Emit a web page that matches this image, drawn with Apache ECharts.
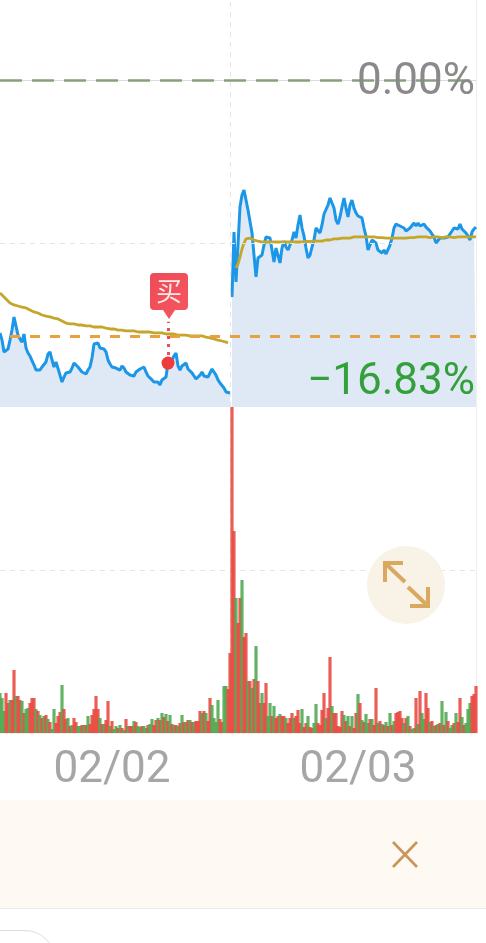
<!DOCTYPE html>
<html>
<head>
<meta charset="utf-8">
<style>html,body{margin:0;padding:0;background:#fff}#c{width:486px;height:943px}</style>
<script src="https://cdn.jsdelivr.net/npm/echarts@6/dist/echarts.min.js"></script>
</head>
<body>
<div id="c"></div>
<script>
// Change (%) per sample, session 02/02 (partial) and 02/03
const pricePrev = [-16.63,-17.10,-17.88,-17.75,-17.69,-17.10,-16.44,-15.58,-15.71,-16.77,-17.03,-17.23,-16.70,-17.62,-17.95,-18.15,-18.28,-18.74,-19.07,-19.00,-19.07,-18.87,-19.00,-18.54,-18.02,-17.88,-18.41,-18.87,-18.54,-18.67,-19.40,-19.86,-19.53,-19.26,-19.13,-19.20,-18.94,-18.61,-18.74,-18.87,-18.87,-19.20,-19.20,-19.33,-19.07,-18.87,-18.28,-17.36,-17.23,-17.29,-17.62,-17.75,-17.69,-17.88,-18.41,-18.67,-18.87,-18.80,-18.94,-18.87,-19.07,-18.80,-18.94,-19.20,-19.33,-19.40,-19.46,-19.46,-19.20,-19.13,-19.00,-19.13,-18.87,-19.20,-19.46,-19.53,-19.72,-19.86,-19.92,-19.86,-20.05,-19.72,-19.79,-19.53,-18.61,-18.80,-18.41,-18.15,-17.95,-18.80,-19.07,-18.80,-18.74,-18.61,-19.00,-19.13,-19.26,-19.46,-19.66,-19.72,-19.40,-19.20,-19.46,-19.40,-19.53,-19.40,-19.00,-18.94,-19.40,-19.72,-19.92,-19.79,-20.25,-20.51,-20.58,-20.58];
const priceNext = [-14.27,-9.99,-13.28,-10.85,-8.35,-7.56,-7.23,-7.89,-8.55,-8.68,-10.06,-11.51,-12.95,-11.70,-11.64,-11.51,-10.85,-10.32,-10.32,-10.39,-11.18,-11.97,-11.05,-11.05,-12.03,-11.05,-10.59,-10.98,-11.18,-11.24,-10.52,-9.99,-10.39,-9.53,-8.88,-9.73,-10.26,-11.05,-11.70,-11.51,-10.98,-10.52,-9.73,-9.86,-10.06,-9.53,-8.81,-8.68,-8.22,-7.76,-7.69,-8.42,-9.21,-9.47,-9.01,-8.35,-7.76,-8.42,-9.01,-8.22,-7.89,-8.42,-8.74,-8.94,-8.81,-9.07,-9.73,-10.26,-11.18,-11.31,-10.52,-10.39,-10.72,-11.18,-11.31,-11.37,-11.18,-11.44,-11.31,-10.85,-10.39,-9.73,-9.47,-9.34,-9.60,-9.53,-9.73,-9.93,-9.99,-9.73,-9.60,-9.40,-9.60,-9.40,-9.60,-9.53,-9.47,-9.67,-9.80,-9.93,-10.13,-10.32,-10.72,-10.85,-10.39,-10.45,-10.39,-10.52,-10.32,-10.26,-9.93,-9.73,-9.60,-9.80,-9.47,-9.80,-9.80,-10.06,-10.26,-10.52,-9.99,-9.80,-9.67];
const avgPrev = [-14.00,-14.14,-14.27,-14.40,-14.53,-14.66,-14.73,-14.79,-14.82,-14.86,-14.93,-14.93,-14.99,-14.99,-15.06,-15.12,-15.19,-15.25,-15.32,-15.32,-15.39,-15.45,-15.45,-15.52,-15.52,-15.58,-15.58,-15.65,-15.65,-15.71,-15.78,-15.85,-15.91,-15.98,-15.98,-16.04,-16.04,-16.04,-16.11,-16.11,-16.11,-16.11,-16.17,-16.17,-16.17,-16.17,-16.17,-16.24,-16.24,-16.24,-16.24,-16.24,-16.31,-16.31,-16.31,-16.37,-16.37,-16.37,-16.37,-16.44,-16.44,-16.44,-16.44,-16.50,-16.50,-16.50,-16.50,-16.50,-16.57,-16.57,-16.57,-16.57,-16.57,-16.57,-16.57,-16.57,-16.63,-16.63,-16.63,-16.63,-16.63,-16.63,-16.63,-16.70,-16.70,-16.70,-16.70,-16.70,-16.77,-16.77,-16.77,-16.77,-16.77,-16.77,-16.77,-16.83,-16.83,-16.83,-16.83,-16.83,-16.83,-16.83,-16.90,-16.90,-16.96,-16.96,-17.03,-17.03,-17.10,-17.10,-17.16,-17.16,-17.23,-17.23,-17.29];
const avgNext = [null,null,-12.36,-12.10,-11.64,-11.11,-10.72,-10.45,-10.39,-10.39,-10.45,-10.52,-10.59,-10.59,-10.65,-10.65,-10.65,-10.65,-10.65,-10.65,-10.65,-10.65,-10.65,-10.65,-10.65,-10.65,-10.65,-10.65,-10.65,-10.65,-10.65,-10.65,-10.65,-10.65,-10.65,-10.65,-10.65,-10.62,-10.62,-10.62,-10.59,-10.59,-10.59,-10.59,-10.59,-10.59,-10.59,-10.52,-10.52,-10.52,-10.45,-10.45,-10.45,-10.45,-10.45,-10.39,-10.39,-10.39,-10.39,-10.39,-10.32,-10.32,-10.32,-10.32,-10.32,-10.32,-10.32,-10.32,-10.32,-10.32,-10.32,-10.32,-10.36,-10.36,-10.36,-10.36,-10.39,-10.39,-10.39,-10.39,-10.39,-10.39,-10.39,-10.39,-10.39,-10.39,-10.39,-10.39,-10.36,-10.36,-10.36,-10.36,-10.32,-10.32,-10.32,-10.32,-10.32,-10.32,-10.36,-10.36,-10.32,-10.32,-10.32,-10.32,-10.36,-10.36,-10.32,-10.32,-10.32,-10.32,-10.36,-10.36,-10.32,-10.32,-10.32,-10.32,-10.32,-10.32,-10.32,-10.32,-10.32,-10.32,-10.32];
const volumes = [
40,35,22,40,30,33,33,63,37,37, 33,32,20,24,25,30,35,35,24,22,
18,15,17,18,14,11,4,24,10,17, 21,48,24,14,15,7,8,15,11,7,
7,8,8,8,17,9,18,24,37,24, 15,9,9,13,32,7,12,4,7,5,
8,5,3,14,7,7,7,12,11,7, 6,7,7,5,8,9,14,8,13,15,
13,20,16,19,12,18,9,8,8,7, 10,18,11,11,13,13,11,11,12,12,
22,20,22,20,12,35,28,15,11,33, 14,11,47,47,44,
80,326,202,135,110,
135,153,96,100,52,52,45,54,87,52, 30,40,30,50,17,30,17,27,15,17,
19,17,17,15,10,15,20,15,17,23, 10,24,6,10,17,6,5,10,29,10,
8,23,40,15,25,76,27,20,20,7, 6,22,18,12,17,7,17,5,20,39,
30,13,11,19,10,14,14,8,45,10, 12,9,8,11,7,20,8,12,20,21,
22,15,10,15,17,7,4,5,35,9, 42,20,14,40,25,11,12,7,8,9,
10,32,8,21,12,5,8,10,20,11, 35,16,8,10,24,30,37,39,47];
const volumeUp = [
0,0,0,1,1,0,1,1,0,1, 1,0,1,0,0,1,1,1,0,1,
0,1,0,1,0,1,0,0,1,1, 1,0,1,1,0,1,0,1,1,0,
0,1,0,1,0,1,1,1,1,1, 0,1,0,1,1,0,1,0,0,1,
0,1,0,1,0,1,1,0,1,0, 0,1,0,0,1,0,0,1,1,0,
1,0,1,0,1,0,1,0,1,0, 1,0,1,0,1,0,1,0,1,1,
1,0,1,0,1,1,0,0,0,0, 1,1,0,0,1,
1,1,1,0,1,
1,0,1,1,0,1,0,1,0,1, 1,0,1,1,0,0,1,0,1,1,
0,1,1,0,1,1,1,0,1,1, 1,0,1,1,0,1,1,0,0,1,
1,1,1,0,1,1,0,1,1,1, 1,1,0,1,0,1,0,1,1,0,
1,0,1,0,0,1,0,1,1,0, 1,0,1,0,1,0,1,0,1,1,
1,1,0,1,0,1,0,0,1,0, 1,0,0,1,1,0,1,0,1,0,
1,0,1,0,1,0,0,1,0,1, 1,0,1,0,0,0,1,1,1];
const tickLabels = {56:'02/02', 179:'02/03'};
const buyIndex = 84;
const buyLabel = '买';
const zeroLabel = '0.00%';
const lastLabel = '\u221216.83%';
const costLevel = -16.83;

const prevPad = pricePrev.map(() => null);
const priceA = pricePrev;
const priceB = prevPad.concat(priceNext);
const avg = avgPrev.concat([null], avgNext);
const categories = priceB.map((_, i) => tickLabels[i] || String(i));
const sessionBreak = 115;
const RED = '#e6433a', GREEN = '#4aa64c';
const badge = 'path://M4 0H34a4 4 0 0 1 4 4V33a4 4 0 0 1-4 4H25L19 46L13 37H4a4 4 0 0 1-4-4V4a4 4 0 0 1 4-4Z';
const guide = {color:'#e4e4e4', type:[5,5], width:1};
const arrow = '#d9a95f';
const priceLine = {color:'#1c97e8', width:3};
const priceArea = {color:'#dfe8f5', opacity:1, origin:'start'};

const chart = echarts.init(document.getElementById('c'), null, {renderer:'canvas'});
chart.setOption({
  animation:false,
  backgroundColor:'#fff',
  grid:[
    {left:0, top:0, width:476, height:407},
    {left:0, top:407, width:476, height:326}
  ],
  xAxis:[
    {type:'category', gridIndex:0, data:categories, boundaryGap:false,
     axisLine:{lineStyle:{color:'#dcdcdc'}}, axisTick:{show:false}, axisLabel:{show:false}, splitLine:{show:false}},
    {type:'category', gridIndex:1, data:categories, boundaryGap:false,
     axisLine:{lineStyle:{color:'#efefef'}}, axisTick:{show:false}, splitLine:{show:false},
     axisLabel:{interval:(i)=>tickLabels[i]!==undefined, hideOverlap:false, margin:16,
       color:'#a6a6a6', fontSize:44, fontFamily:'Roboto'}}
  ],
  yAxis:[
    {type:'value', gridIndex:0, min:-21.5, max:5.26, position:'right', splitLine:{show:false},
     axisTick:{show:false}, axisLabel:{show:false}, axisLine:{show:true, lineStyle:{color:'#eeeeee'}}},
    {type:'value', gridIndex:1, min:0, max:326, position:'right', splitLine:{show:false},
     axisTick:{show:false}, axisLabel:{show:false}, axisLine:{show:true, lineStyle:{color:'#eeeeee'}}}
  ],
  series:[
    {type:'line', name:'price-next', xAxisIndex:0, yAxisIndex:0, data:priceB, showSymbol:false, z:3,
     lineStyle:priceLine, areaStyle:priceArea},
    {type:'line', name:'price-prev', xAxisIndex:0, yAxisIndex:0, data:priceA, showSymbol:false, z:3,
     lineStyle:priceLine, areaStyle:priceArea,
     markLine:{silent:true, symbol:'none', animation:false, label:{show:false},
       data:[
         {yAxis:-10.72, lineStyle:guide},
         {xAxis:sessionBreak, lineStyle:guide},
         {yAxis:0, lineStyle:{color:'#86a07e', type:[22,10], width:2.6}},
         [{coord:[5,costLevel], lineStyle:{color:'#eba03f', type:[10,10], width:3}},{coord:[238,costLevel]}],
         [{coord:[buyIndex,priceA[buyIndex]], lineStyle:{color:'#e8505a', type:[3,5], width:3}},{coord:[buyIndex,-15.9]}]
       ]},
     markPoint:{silent:true, animation:false, data:[
       {coord:[buyIndex,priceA[buyIndex]], symbol:'circle', symbolSize:13, itemStyle:{color:'#ee3b3b'}, label:{show:false}},
       {coord:[buyIndex,priceA[buyIndex]], symbol:badge, symbolSize:[38,46], symbolOffset:[1,-67],
        itemStyle:{color:new echarts.graphic.LinearGradient(0,0,1,1,[{offset:0,color:'#ee4a58'},{offset:1,color:'#f4585f'}])},
        label:{show:true, formatter:buyLabel, color:'#ffe9e6', fontSize:26, fontFamily:'Noto Sans CJK SC', position:'inside', offset:[0,-5]}}
     ]}},
    {type:'line', name:'avg', xAxisIndex:0, yAxisIndex:0, data:avg, showSymbol:false, z:4,
     lineStyle:{color:'#c4a72a', width:2.8}},
    {type:'bar', name:'volume', xAxisIndex:1, yAxisIndex:1, barWidth:3.2, z:3,
     data:volumes.map((v,i)=>({value:v, itemStyle:{color:volumeUp[i]?RED:GREEN, opacity:0.86}})),
     markLine:{silent:true, symbol:'none', animation:false, z:1, label:{show:false},
       data:[{yAxis:163, lineStyle:guide},{xAxis:sessionBreak, lineStyle:guide}]}}
  ],
  graphic:[
    {type:'text', z:20, style:{x:475, y:83, text:zeroLabel, align:'right', verticalAlign:'middle', fill:'#8a8a8a', font:'44px Roboto'}},
    {type:'text', z:20, style:{x:475, y:383, text:lastLabel, align:'right', verticalAlign:'middle', fill:'#34a03c', font:'44px Roboto'}},
    {type:'circle', z:20, shape:{cx:406, cy:585, r:39}, style:{fill:'#f8f2e7'}},
    {type:'polyline', z:21, shape:{points:[[403,563],[385,563],[385,582]]}, style:{stroke:arrow, lineWidth:4, fill:null}},
    {type:'line', z:21, shape:{x1:385, y1:563, x2:405, y2:582}, style:{stroke:arrow, lineWidth:4}},
    {type:'polyline', z:21, shape:{points:[[410,606],[428,606],[428,587]]}, style:{stroke:arrow, lineWidth:4, fill:null}},
    {type:'line', z:21, shape:{x1:408, y1:587, x2:428, y2:606}, style:{stroke:arrow, lineWidth:4}},
    {type:'rect', z:20, shape:{x:0, y:800, width:486, height:108}, style:{fill:'#fef9f3'}},
    {type:'line', z:20, shape:{x1:0, y1:908.5, x2:486, y2:908.5}, style:{stroke:'#eeeae6', lineWidth:1}},
    {type:'line', z:21, shape:{x1:393, y1:842, x2:417, y2:867}, style:{stroke:'#c8965a', lineWidth:2.6}},
    {type:'line', z:21, shape:{x1:417, y1:842, x2:393, y2:867}, style:{stroke:'#c8965a', lineWidth:2.6}},
    {type:'rect', z:20, shape:{x:-100, y:930.5, width:155, height:60, r:30}, style:{fill:null, stroke:'#dddddd', lineWidth:1}}
  ]
});
</script>
</body>
</html>
